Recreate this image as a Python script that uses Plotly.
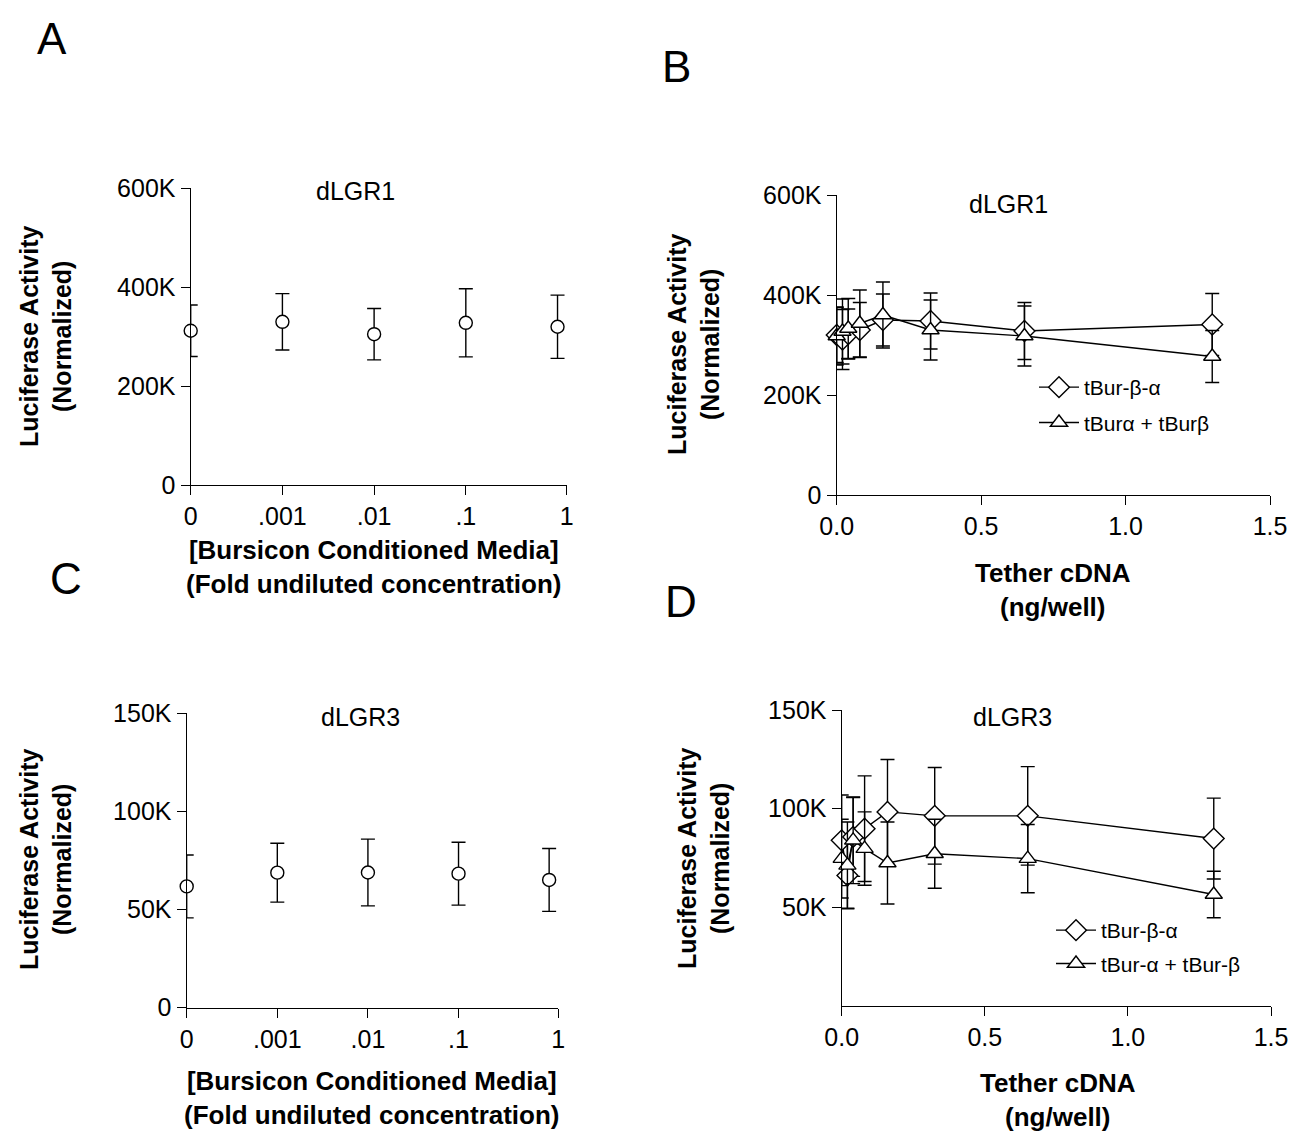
import plotly.graph_objects as go

W, H = 1312, 1137

# ---------------- data ----------------
dose_labels = ["0", ".001", ".01", ".1", "1"]
dose_AC = [0, 0.001, 0.01, 0.1, 1]          # 0 is drawn at the "0" slot of the log axis
zero_slot = 1e-4

A_mean = [312000, 330000, 305000, 328000, 320000]
A_err = [52000, 57000, 52000, 69000, 64000]

C_mean = [61700, 68700, 68800, 68200, 65000]
C_err = [16000, 15000, 17000, 16000, 16000]

tether_ng = [0, 0.02, 0.04, 0.08, 0.16, 0.325, 0.65, 1.3]

B_diam_mean = [320000, 311000, 322000, 330000, 350000, 348000, 328000, 341000]
B_diam_err = [55000, 60000, 50000, 55000, 52000, 56000, 57000, 62000]
B_tri_mean = [318000, 327000, 333000, 343000, 360000, 330000, 318000, 277000]
B_tri_err = [58000, 65000, 60000, 67000, 66000, 60000, 60000, 52000]

D_diam_mean = [83900, 66100, 85600, 89800, 98300, 96300, 96300, 84800]
D_diam_err = [23000, 16600, 20000, 26800, 26600, 24500, 25000, 20500]
D_tri_mean = [74600, 71200, 83900, 79700, 72400, 77100, 74600, 56400]
D_tri_err = [20000, 22000, 22000, 18600, 20800, 17500, 17300, 11800]

FONT = "Liberation Sans, Arial, sans-serif"
LW = 1.4


def px_x(p):
    return p / W


def px_y(p):
    return 1 - p / H


def marker(symbol, size):
    return dict(symbol=symbol, size=size, color="white", line=dict(color="black", width=LW))


def err(arr):
    return dict(type="data", array=arr, color="black", thickness=LW, width=7)


fig = go.Figure()

xAC = [zero_slot if d == 0 else d for d in dose_AC]

fig.add_trace(go.Scatter(x=xAC, y=A_mean, mode="markers", marker=marker("circle", 13),
                         error_y=err(A_err), xaxis="x", yaxis="y", showlegend=False, cliponaxis=False))
fig.add_trace(go.Scatter(x=xAC, y=C_mean, mode="markers", marker=marker("circle", 13),
                         error_y=err(C_err), xaxis="x3", yaxis="y3", showlegend=False, cliponaxis=False))

fig.add_trace(go.Scatter(x=tether_ng, y=B_diam_mean, mode="lines+markers", name="tBur-β-α",
                         marker=marker("diamond", 16), line=dict(color="black", width=LW),
                         error_y=err(B_diam_err), xaxis="x2", yaxis="y2", legend="legend",
                         legendgroup="b1", cliponaxis=False))
fig.add_trace(go.Scatter(x=tether_ng, y=B_tri_mean, mode="lines+markers", name="tBurα + tBurβ",
                         marker=marker("triangle-up", 15), line=dict(color="black", width=LW),
                         error_y=err(B_tri_err), xaxis="x2", yaxis="y2", legend="legend",
                         legendgroup="b2", cliponaxis=False))

fig.add_trace(go.Scatter(x=tether_ng, y=D_diam_mean, mode="lines+markers", name="tBur-β-α",
                         marker=marker("diamond", 16), line=dict(color="black", width=LW),
                         error_y=err(D_diam_err), xaxis="x4", yaxis="y4", legend="legend2",
                         legendgroup="d1", cliponaxis=False))
fig.add_trace(go.Scatter(x=tether_ng, y=D_tri_mean, mode="lines+markers", name="tBur-α + tBur-β",
                         marker=marker("triangle-up", 15), line=dict(color="black", width=LW),
                         error_y=err(D_tri_err), xaxis="x4", yaxis="y4", legend="legend2",
                         legendgroup="d2", cliponaxis=False))

axis_common = dict(showline=True, linecolor="black", linewidth=LW, ticks="outside", ticklen=9,
                   tickwidth=LW, tickcolor="black", showgrid=False, zeroline=False,
                   automargin=False,
                   tickfont=dict(family=FONT, size=25, color="black"), fixedrange=True)

# pixel boxes of plotting areas
A_box = (190.7, 566.7, 188.3, 485.0)
B_box = (836.7, 1270.0, 195.0, 495.0)
C_box = (186.7, 558.2, 713.0, 1007.6)
D_box = (841.7, 1271.0, 710.0, 1005.7)


def dom(box):
    x0, x1, y0, y1 = box
    return [px_x(x0), px_x(x1)], [px_y(y1), px_y(y0)]


Ax, Ay = dom(A_box)
Bx, By = dom(B_box)
Cx, Cy = dom(C_box)
Dx, Dy = dom(D_box)

log_ticks = [zero_slot, 1e-3, 1e-2, 1e-1, 10 ** 0.1]

fig.update_layout(
    template="none",
    width=W, height=H, margin=dict(l=0, r=0, t=0, b=0, pad=0, autoexpand=False),
    paper_bgcolor="white", plot_bgcolor="white",
    font=dict(family=FONT, color="black"),
    xaxis=dict(axis_common, domain=Ax, anchor="y", type="log", range=[-4, 0.1],
               tickvals=log_ticks, ticktext=dose_labels),
    yaxis=dict(axis_common, domain=Ay, anchor="x", range=[0, 600000],
               tickvals=[0, 200000, 400000, 600000], ticktext=["0", "200K", "400K", "600K"]),
    xaxis2=dict(axis_common, domain=Bx, anchor="y2", range=[0, 1.5],
                tickvals=[0, 0.5, 1.0, 1.5], ticktext=["0.0", "0.5", "1.0", "1.5"]),
    yaxis2=dict(axis_common, domain=By, anchor="x2", range=[0, 600000],
                tickvals=[0, 200000, 400000, 600000], ticktext=["0", "200K", "400K", "600K"]),
    xaxis3=dict(axis_common, domain=Cx, anchor="y3", type="log", range=[-4, 0.1],
                tickvals=log_ticks, ticktext=dose_labels),
    yaxis3=dict(axis_common, domain=Cy, anchor="x3", range=[0, 150000],
                tickvals=[0, 50000, 100000, 150000], ticktext=["0", "50K", "100K", "150K"]),
    xaxis4=dict(axis_common, domain=Dx, anchor="y4", range=[0, 1.5],
                tickvals=[0, 0.5, 1.0, 1.5], ticktext=["0.0", "0.5", "1.0", "1.5"]),
    yaxis4=dict(axis_common, domain=Dy, anchor="x4", range=[0, 150000],
                tickvals=[50000, 100000, 150000], ticktext=["50K", "100K", "150K"]),
    legend=dict(x=px_x(1034), y=px_y(367), xanchor="left", yanchor="top",
                bgcolor="rgba(0,0,0,0)", borderwidth=0, font=dict(family=FONT, size=21),
                traceorder="grouped", tracegroupgap=5, itemwidth=40),
    legend2=dict(x=px_x(1051), y=px_y(910), xanchor="left", yanchor="top",
                 bgcolor="rgba(0,0,0,0)", borderwidth=0, font=dict(family=FONT, size=21),
                 traceorder="grouped", tracegroupgap=3, itemwidth=40),
)

ann = []


def text(x, y, s, size, bold=False, angle=0):
    if bold:
        s = "<b>" + s + "</b>"
    ann.append(dict(x=px_x(x), y=px_y(y), xref="paper", yref="paper", text=s, showarrow=False,
                    textangle=angle, xanchor="center", yanchor="middle",
                    font=dict(family=FONT, size=size, color="black")))


# panel letters
text(52, 38, "A", 44)
text(676, 66, "B", 44)
text(66, 578, "C", 44)
text(681, 601, "D", 44)

# panel titles
text(355, 191, "dLGR1", 25)
text(1008, 204, "dLGR1", 25)
text(360, 717, "dLGR3", 25)
text(1012, 717, "dLGR3", 25)

# y-axis titles
ytitle = "Luciferase Activity<br>(Normalized)"
text(45, 337, ytitle, 25, bold=True, angle=-90)
text(694, 345, ytitle, 25, bold=True, angle=-90)
text(45, 860, ytitle, 25, bold=True, angle=-90)
text(703, 858, ytitle, 25, bold=True, angle=-90)

# x-axis titles
xt_AC = "[Bursicon Conditioned Media]<br>(Fold undiluted concentration)"
text(374, 567, xt_AC, 26, bold=True)
text(372, 1098, xt_AC, 26, bold=True)
xt_BD = "Tether cDNA<br>(ng/well)"
text(1053, 590, xt_BD, 26, bold=True)
text(1058, 1100, xt_BD, 26, bold=True)

fig.update_layout(annotations=ann)

fig.write_html("out.html")
